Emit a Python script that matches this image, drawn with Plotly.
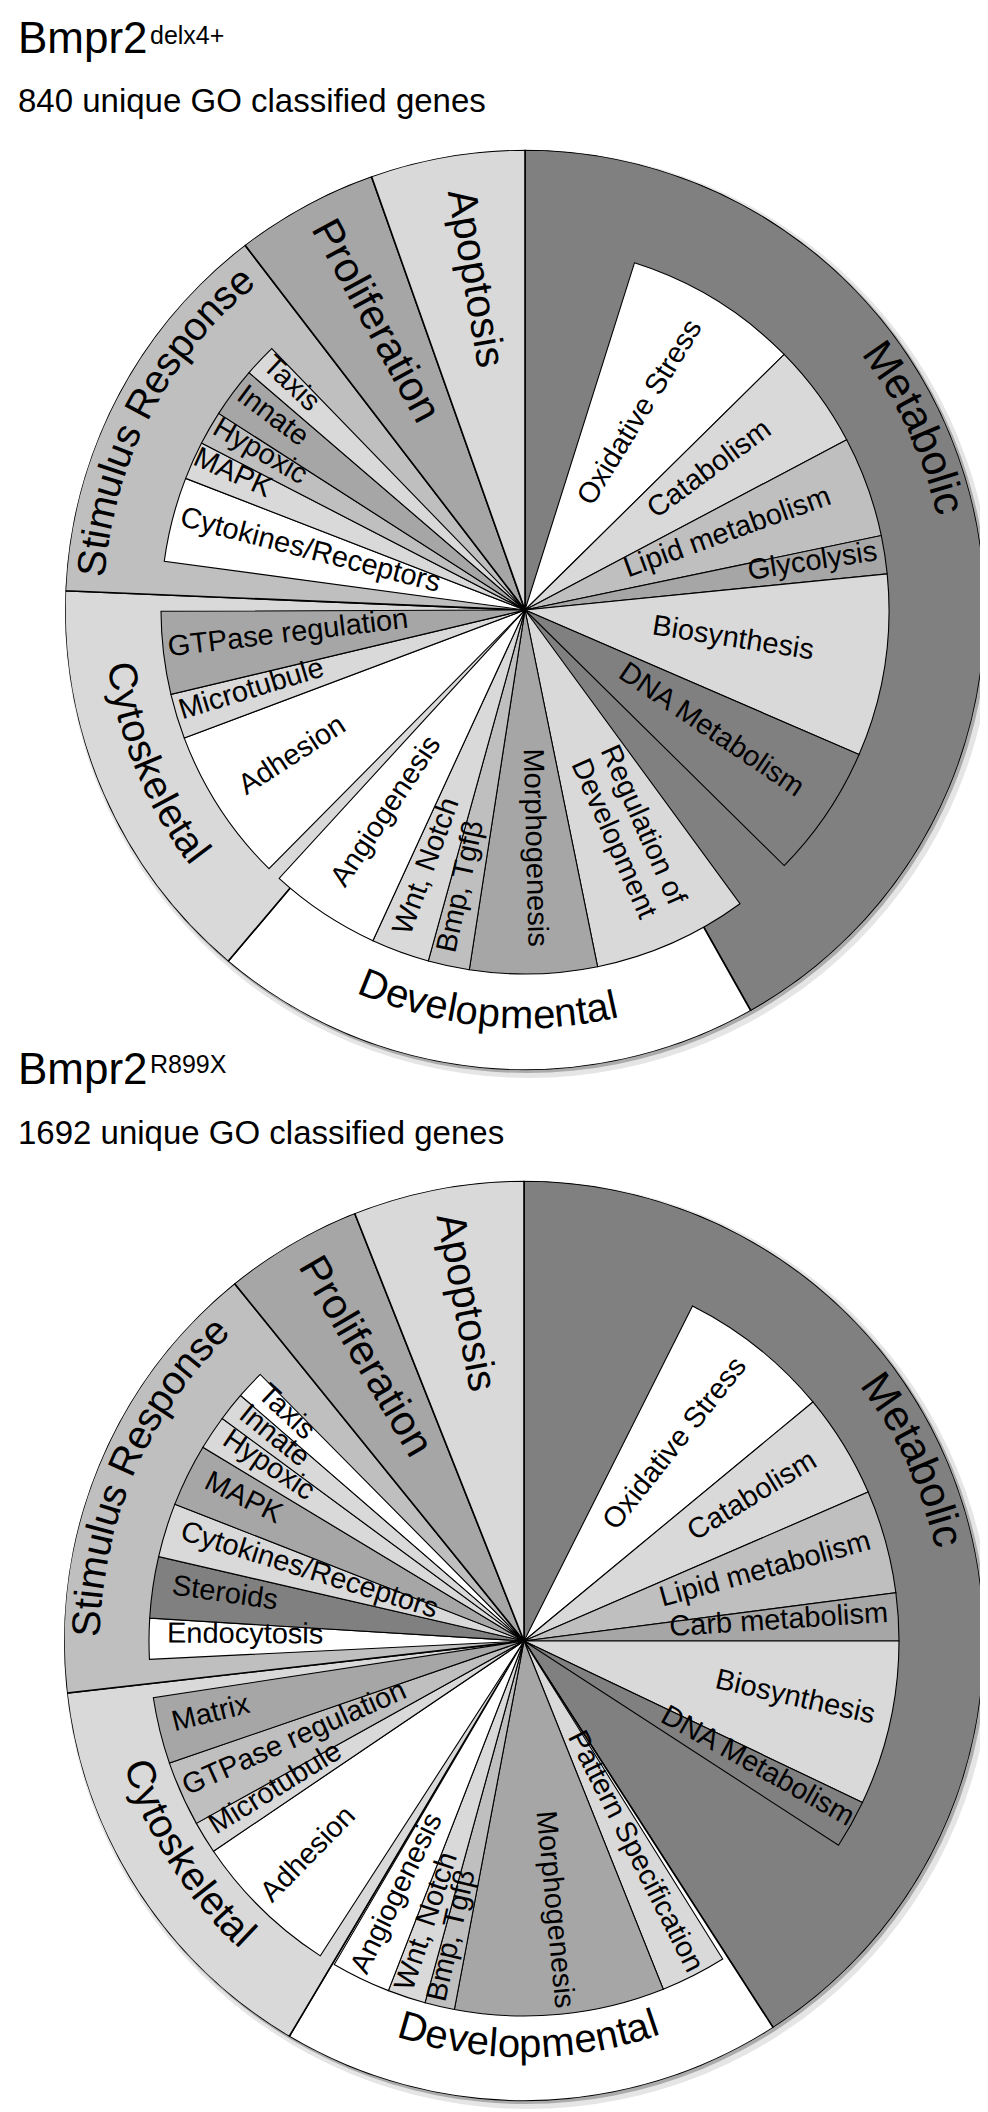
import math
import plotly.graph_objects as go

W, H = 988, 2112
FONT = "Liberation Sans, Arial, sans-serif"

# ---------------- DATA: chart 1 (Bmpr2 delx4+) ----------------
c1_title = "Bmpr2"
c1_sup = "delx4+"
c1_subtitle = "840 unique GO classified genes"
c1_categories = ["Metabolic", "Developmental", "Cytoskeletal", "Stimulus Response", "Proliferation", "Apoptosis"]
c1_category_arcs = [150.6, 69.6, 52.2, 50.1, 18.0, 19.5]          # degrees of the circle
c1_sub_labels = [None, "Oxidative Stress", "Catabolism", "Lipid metabolism", "Glycolysis", "Biosynthesis",
                 "DNA Metabolism", None, "Regulation of\nDevelopment", "Morphogenesis", "Bmp, Tgfβ",
                 "Wnt, Notch", "Angiogenesis", None, "Adhesion", "Microtubule", "GTPase regulation", None,
                 "Cytokines/Receptors", "MAPK", "Hypoxic", "Innate", "Taxis"]
c1_sub_arcs = [17.5, 27.9, 16.7, 16.1, 6.1, 29.1, 21.2, 9.2, 24.7, 20.3, 6.6, 9.3, 17.8, 2.2,
               24.7, 7.2, 13.2, 7.9, 13.5, 6.1, 5.4, 8.0, 5.2]

# ---------------- DATA: chart 2 (Bmpr2 R899X) ----------------
c2_title = "Bmpr2"
c2_sup = "R899X"
c2_subtitle = "1692 unique GO classified genes"
c2_categories = ["Metabolic", "Developmental", "Cytoskeletal", "Stimulus Response", "Proliferation", "Apoptosis"]
c2_category_arcs = [147.2, 63.5, 52.8, 57.5, 17.4, 21.6]
c2_sub_labels = [None, "Oxidative Stress", "Catabolism", "Lipid metabolism", "Carb metabolism", "Biosynthesis",
                 "DNA Metabolism", None, None, "Pattern Specification", "Morphogenesis", "Bmp, Tgfβ",
                 "Wnt, Notch", "Angiogenesis", None, "Adhesion", "Microtubule", "GTPase regulation", "Matrix",
                 None, "Endocytosis", "Steroids", "Cytokines/Receptors", "MAPK", "Hypoxic", "Innate", "Taxis"]
c2_sub_arcs = [26.7, 23.7, 16.2, 16.0, 7.4, 25.5, 7.5, 24.2, 0.8, 10.2, 32.5, 4.6, 5.9, 9.2, 2.5,
               23.0, 5.0, 10.1, 10.3, 5.9, 6.3, 9.5, 8.4, 9.7, 5.3, 4.5, 4.4]

# ---------------- STYLE / LAYOUT ----------------
WHITE, G2, G3, G4, G5 = "#ffffff", "#d9d9d9", "#bfbfbf", "#a6a6a6", "#808080"
cat_colors = [G5, WHITE, G2, G3, G4, G2]
c1_sub_colors = [None, WHITE, G2, G3, G4, G2, G5, None, G2, G4, G3, G2, WHITE, None, WHITE, G2, G4, None,
                 WHITE, G2, G3, G4, G2]
c2_sub_colors = [None, WHITE, G2, G3, G4, G2, G5, None, None, G2, G4, G3, G2, WHITE, None, WHITE, G2, G3, G4,
                 None, WHITE, G5, G2, G4, G2, G2, WHITE]
c1_sub_lr = [None, 228, 232, 217, 292, 210, 222, None, 245, 238, 284, 275, 245, None, 274, 285, 238, None,
             223, 322, 309, 318, 325]
c2_sub_lr = [None, 248, 270, 252, 255, 277, 265, None, None, 238, 270, 303, 297, 283, None, 303, 289, 249, 321,
             None, 279, 303, 226, 314, 310, 323, 330]
# outer label placement: (angle, radius, mode, size) ; mode: cw / ccw arc, or radial
c1_cat_lab = [(65.0, 429, "cw", 43), (185.4, 412, "ccw", 40), (247.6, 415, "ccw", 40), (297.5, 428, "cw", 40),
              (None, 325, "radial", 42), (None, 335, "radial", 41)]
c2_cat_lab = [(65.1, 428, "cw", 43), (179.4, 410, "ccw", 40), (237.7, 413, "ccw", 40), (293.5, 430, "cw", 40),
              (None, 326, "radial", 42), (None, 344, "radial", 41)]

R = 460
DROP = 0.2      # em offset between annotation box middle and cap-height middle
charts = [
    dict(pid="polar", cx=517, cy=602, rin=364 / R, cats=c1_categories, arcs=c1_category_arcs,
         subs=c1_sub_labels, sarcs=c1_sub_arcs, scol=c1_sub_colors, slr=c1_sub_lr, clab=c1_cat_lab,
         title=c1_title, sup=c1_sup, subtitle=c1_subtitle, ty=(38.7, 31.5, 99)),
    dict(pid="polar2", cx=516, cy=1633, rin=375 / R, cats=c2_categories, arcs=c2_category_arcs,
         subs=c2_sub_labels, sarcs=c2_sub_arcs, scol=c2_sub_colors, slr=c2_sub_lr, clab=c2_cat_lab,
         title=c2_title, sup=c2_sup, subtitle=c2_subtitle, ty=(1069, 1061, 1131)),
]

CW = {'M': .833, 'e': .556, 't': .278, 'a': .556, 'b': .556, 'o': .556, 'l': .222, 'i': .222, 'c': .5,
      'D': .722, 'v': .5, 'p': .556, 'm': .833, 'n': .556, 'C': .722, 'y': .5, 's': .5, 'k': .5,
      'S': .667, 'u': .556, 'R': .722, ' ': .278, 'B': .667, 'r': .333, '2': .556}


def norm(a):
    return (a + 180) % 360 - 180


def px_to_paper(x, y):
    return x / W, 1 - y / H


def polar_px(cx, cy, r, th):
    t = math.radians(th)
    return cx + r * math.sin(t), cy - r * math.cos(t)


def starts(vals):
    out, s = [], 0.0
    for v in vals:
        out.append(s)
        s += v
    return out


ann = []


def add_text(xp, yp, text, size, angle=0.0, xanchor="center"):
    """place text so that its cap-height middle sits at (xp, yp) (pixels)."""
    a = math.radians(angle)
    xp += DROP * size * math.sin(a) * -1 * -1
    yp -= DROP * size * math.cos(a)
    x, y = px_to_paper(xp, yp)
    ann.append(dict(x=x, y=y, xref="paper", yref="paper", text=text, showarrow=False,
                    textangle=norm(angle), xanchor=xanchor, yanchor="middle",
                    font=dict(family=FONT, size=size, color="black")))


def add_lines(xp, yp, text, size, angle):
    lines = text.split("\n")
    lh = 1.12 * size
    a = math.radians(angle)
    ux, uy = math.sin(a), -math.cos(a)        # "up" direction of rotated text
    n = len(lines)
    for j, line in enumerate(lines):
        off = ((n - 1) / 2 - j) * lh
        add_text(xp + ux * off, yp + uy * off, line, size, angle)


fig = go.Figure()
shapes, layout_polars = [], {}

for ch in charts:
    cx, cy = ch["cx"], ch["cy"]
    # soft shadow
    for off, grow, alpha in [(4, 4, 0.10), (2, 1, 0.25)]:
        shapes.append(dict(type="circle", xref="paper", yref="paper", layer="below",
                           x0=(cx - R - grow + off) / W, x1=(cx + R + grow + off) / W,
                           y0=1 - (cy + R + grow + off) / H, y1=1 - (cy - R - grow + off) / H,
                           fillcolor=f"rgba(0,0,0,{alpha})", line=dict(width=0)))
    st = starts(ch["arcs"])
    fig.add_trace(go.Barpolar(
        r=[1] * len(ch["arcs"]), theta=[s + v / 2 for s, v in zip(st, ch["arcs"])], width=ch["arcs"],
        marker=dict(color=cat_colors, line=dict(color="black", width=1.6)),
        subplot=ch["pid"], hoverinfo="skip", showlegend=False))
    sst = starts(ch["sarcs"])
    idx = [i for i, l in enumerate(ch["subs"]) if l is not None]
    fig.add_trace(go.Barpolar(
        r=[ch["rin"]] * len(idx), theta=[sst[i] + ch["sarcs"][i] / 2 for i in idx],
        width=[ch["sarcs"][i] for i in idx],
        marker=dict(color=[ch["scol"][i] for i in idx], line=dict(color="black", width=1.1)),
        subplot=ch["pid"], hoverinfo="skip", showlegend=False))

    layout_polars[ch["pid"]] = dict(
        domain=dict(x=[(cx - R) / W, (cx + R) / W], y=[1 - (cy + R) / H, 1 - (cy - R) / H]),
        bgcolor="rgba(0,0,0,0)", hole=0,
        radialaxis=dict(visible=False, range=[0, 1]),
        angularaxis=dict(visible=False, rotation=90, direction="clockwise"))

    # sub labels
    for i in idx:
        th = sst[i] + ch["sarcs"][i] / 2
        a = th - 90 if th < 180 else th - 270
        xp, yp = polar_px(cx, cy, ch["slr"][i], th)
        add_lines(xp, yp, ch["subs"][i], 29, a)

    # category labels
    for k, name in enumerate(ch["cats"]):
        th, rr, mode, size = ch["clab"][k]
        if mode == "radial":
            th = st[k] + ch["arcs"][k] / 2
            a = th - 90 if th < 180 else th - 270
            xp, yp = polar_px(cx, cy, rr, th)
            add_text(xp, yp, name, size, a)
            continue
        widths = [CW.get(c, .556) * size for c in name]
        L = sum(widths)
        s = 0.0
        for c, w in zip(name, widths):
            mid = s + w / 2 - L / 2
            s += w
            if c == " ":
                continue
            d = math.degrees(mid / rr)
            if mode == "cw":
                phi, a = th + d, th + d
            else:
                phi, a = th - d, th - d - 180
            xp, yp = polar_px(cx, cy, rr, phi)
            add_text(xp, yp, c, size, a)

    # titles
    tsize, ssize, lsize = 44, 25, 33
    add_text(8, ch["ty"][0], ch["title"], tsize, 0, "left")
    tw = sum(CW.get(c, .556) for c in ch["title"]) * tsize
    add_text(8 + tw + 2, ch["ty"][1], ch["sup"], ssize, 0, "left")
    add_text(8, ch["ty"][2], ch["subtitle"], lsize, 0, "left")

fig.update_layout(width=W, height=H, margin=dict(l=0, r=0, t=0, b=0), paper_bgcolor="white",
                  plot_bgcolor="white", showlegend=False, annotations=ann, shapes=shapes,
                  **layout_polars)
fig.write_html("out.html")
